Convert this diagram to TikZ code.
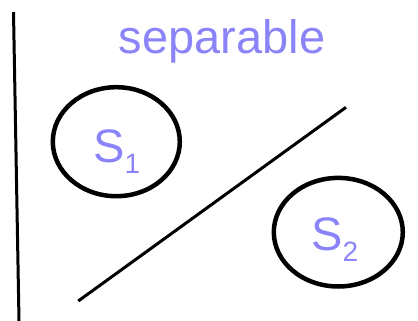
\documentclass[tikz,border=0pt]{standalone}
\usepackage{fontspec}
\setmainfont{Liberation Sans}
\usepackage{tikz}
\usetikzlibrary{shapes.geometric}
\definecolor{labc}{HTML}{8A84F8}
\tikzset{
  blob/.style={ellipse,draw=black,line width=4.5pt,minimum width=127pt,minimum height=109pt,inner sep=0pt},
  sep/.style={line width=3pt,black},
  lab/.style={text=labc,inner sep=0pt,font=\fontsize{47}{50}\selectfont}
}
\newcommand{\subidx}[1]{\raisebox{-11pt}{\fontsize{28}{28}\selectfont #1}}

\begin{document}
\begin{tikzpicture}[x=1pt,y=-1pt]
\useasboundingbox (0,0) rectangle (418,321);
\coordinate (vtop) at (13.5,12);
\coordinate (vbot) at (19,321);
\draw[sep] (vtop)--(vbot);
\node[lab,anchor=base] (title) at (222,53.3) {separable};
\node[blob] (s1) at (116.3,141.7) {};
\node[blob,minimum width=129pt,minimum height=108.6pt] (s2) at (338.3,232.2) {};
\node[lab,anchor=base west] (s1lab) at (93,162) {S\subidx{1}};
\node[lab,anchor=base west] (s2lab) at (311,250) {S\subidx{2}};
\coordinate (dlo) at (78.3,301);
\coordinate (dhi) at (346,107.3);
\draw[sep] (dlo)--(dhi);
\end{tikzpicture}
\end{document}
